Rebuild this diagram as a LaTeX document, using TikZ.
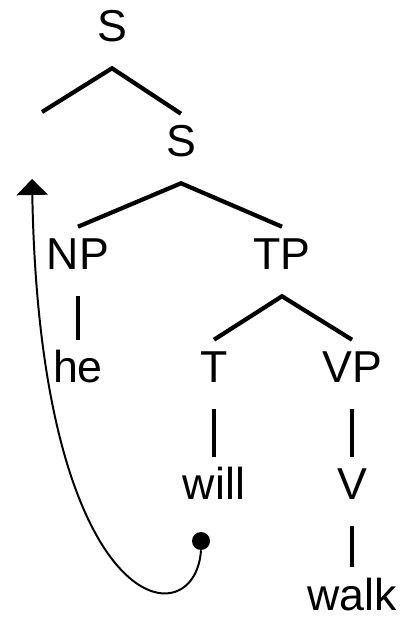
\documentclass[tikz,border=0pt]{standalone}
\usepackage{fontspec}
\setmainfont{Liberation Sans}
\usepackage{tikz}
\usetikzlibrary{arrows.meta}

\begin{document}
\begin{tikzpicture}[
    cat/.style={anchor=base, inner sep=0pt, text height=1.075cm, text depth=0.65cm, font=\fontsize{31.8}{36}\selectfont},
    branch/.style={line width=3pt},
    move/.style={line width=1.4pt, -{Triangle[width=0.78cm, length=0.4cm]}}
]
\useasboundingbox (0,0) rectangle (10.075,15.45);

% Categories
\node[cat] (S1) at (2.8, 14.4) {S};
\node[cat] (S2) at (4.525, 11.525) {S};
\node[cat] (NP) at (1.95, 8.7) {NP};
\node[cat] (TP) at (7.05, 8.7) {TP};
\node[cat] (T) at (5.35, 5.875) {T};
\node[cat] (VP) at (8.8, 5.875) {VP};
\node[cat] (V) at (8.8, 2.95) {V};

% Words
\node[cat] (he) at (1.95, 5.875) {he};
\node[cat] (will) at (5.35, 2.95) {will};
\node[cat] (walk) at (8.8, 0.2) {walk};

% Empty landing site
\coordinate (gap) at (1.05, 12.65);

% Branches
\draw[branch] (gap) -- (S1.south) -- (S2.north);
\draw[branch] (NP.north) -- (S2.south) -- (TP.north);
\draw[branch] (T.north) -- (TP.south) -- (VP.north);
\draw[branch] (NP.south) -- (he.north);
\draw[branch] (T.south) -- (will.north);
\draw[branch] (VP.south) -- (V.north);
\draw[branch] (V.south) -- (walk.north);

% Movement arrow
\node[circle, fill, inner sep=0pt, minimum size=0.45cm] (trace) at (5.025, 1.925) {};
\coordinate (land) at (0.8, 10.975);
\draw[move] (trace.south) .. controls (4.875, -0.55) and (1.0, -0.05) .. (land);

\end{tikzpicture}
\end{document}
